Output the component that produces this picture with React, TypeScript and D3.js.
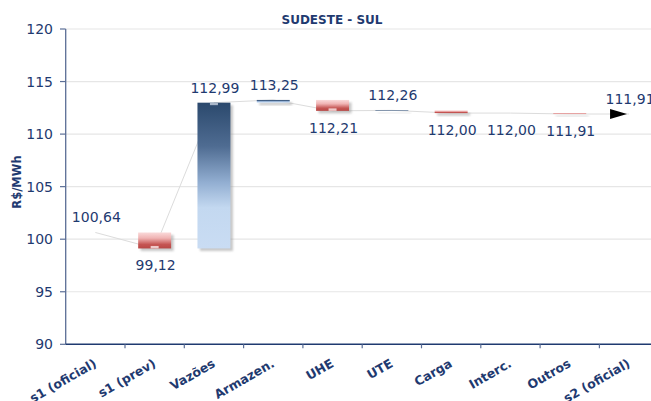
import React from "react";
import * as d3 from "d3";

const categories = ["s1 (oficial)", "s1 (prev)", "Vazões", "Armazen.", "UHE", "UTE", "Carga", "Interc.", "Outros", "s2 (oficial)"];
const cumulative = [100.64, 99.12, 112.99, 113.25, 112.21, 112.26, 112.0, 112.0, 111.91, 111.91];
const yTicks = [90, 95, 100, 105, 110, 115, 120];
const title = "SUDESTE - SUL";
const yTitle = "R$/MWh";

const W = 651;
const H = 401;
const NAVY = "#1f3a70";

const fmt = (v: number) => v.toFixed(2).replace(".", ",");

export default function App() {
  const x = d3.scaleBand<string>().domain(categories).range([65.7, 658.7]).padding(0);
  const y = d3.scaleLinear().domain([90, 120]).range([344.3, 29]);
  const bw = x.bandwidth();
  const barW = bw * 0.556;
  const cx = (c: string) => (x(c) as number) + bw / 2;
  const last = categories.length - 1;

  const line = d3
    .line<number>()
    .x((_, i) => cx(categories[i]))
    .y((d) => y(d));

  return (
    <svg width={W} height={H} style={{ position: "absolute", left: 0, top: 0, background: "#fff" }} fontFamily="Verdana, 'DejaVu Sans', sans-serif">
      <defs>
        <linearGradient id="gRed" x1="0" y1="0" x2="0" y2="1">
          <stop offset="0" stopColor="#fadada" />
          <stop offset="0.35" stopColor="#f0b4b4" />
          <stop offset="0.75" stopColor="#c55553" />
          <stop offset="1" stopColor="#b84846" />
        </linearGradient>
        <linearGradient id="gBlue" x1="0" y1="0" x2="0" y2="1">
          <stop offset="0" stopColor="#2b496d" />
          <stop offset="0.3" stopColor="#4f6c92" />
          <stop offset="0.55" stopColor="#93afd2" />
          <stop offset="0.72" stopColor="#c3d8f0" />
          <stop offset="1" stopColor="#c9dcf3" />
        </linearGradient>
        <filter id="blur" x="-20%" y="-20%" width="140%" height="140%">
          <feGaussianBlur stdDeviation="0.8" />
        </filter>
      </defs>

      {/* title */}
      <text x={332} y={24} textAnchor="middle" fontSize={12} fontWeight="bold" fill={NAVY}>
        {title}
      </text>

      {/* gridlines */}
      {yTicks.slice(1).map((t) => (
        <line key={t} x1={66} x2={W} y1={y(t)} y2={y(t)} stroke="#e6e6e6" strokeWidth={1.2} />
      ))}

      {/* y axis */}
      <line x1={65.7} x2={65.7} y1={y(120)} y2={y(90)} stroke="#5b6e96" strokeWidth={1.3} />
      {yTicks.map((t) => (
        <g key={t}>
          <line x1={60} x2={65.7} y1={y(t)} y2={y(t)} stroke="#5b6e96" strokeWidth={1.2} />
          <text x={53} y={y(t)} dy="0.36em" textAnchor="end" fontSize={14} fill={NAVY}>
            {t}
          </text>
        </g>
      ))}
      <text
        transform={`translate(21,182) rotate(-90)`}
        textAnchor="middle"
        fontSize={11.5}
        fontWeight="bold"
        fill={NAVY}
      >
        {yTitle}
      </text>

      {/* connector line */}
      <path d={line(cumulative) || ""} fill="none" stroke="#dcdcdc" strokeWidth={1} />

      {/* bars */}
      {cumulative.map((v, i) => {
        if (i === 0 || i === last) return null;
        const prev = cumulative[i - 1];
        if (v === prev) return null;
        const up = v > prev;
        const top = y(Math.max(v, prev));
        const bot = y(Math.min(v, prev));
        const h = Math.max(bot - top, 0.6);
        const bx = cx(categories[i]) - barW / 2;
        return (
          <g key={i}>
            <rect x={bx + 2.5} y={top + 2.5} width={barW} height={h} fill="#9a9a9a" opacity={0.55} filter="url(#blur)" />
            <rect x={bx} y={top} width={barW} height={h} fill={up ? "url(#gBlue)" : "url(#gRed)"} />
            {h > 3 && (
              <rect
                x={cx(categories[i]) - 4}
                y={up ? top : bot - 2.5}
                width={8}
                height={2.5}
                fill={up ? "#a9b7ca" : "#efc9c9"}
              />
            )}
          </g>
        );
      })}

      {/* arrow for final value */}
      {(() => {
        const c = cx(categories[last]);
        const yy = y(cumulative[last]);
        const tip = c - 2;
        return <path d={`M${tip - 17},${yy - 5} L${tip},${yy} L${tip - 17},${yy + 5} Z`} fill="#000" />;
      })()}

      {/* value labels */}
      {cumulative.map((v, i) => {
        const prev = i > 0 ? cumulative[i - 1] : v;
        const above = i === 0 || i === last || v > prev;
        const yy = above ? y(Math.max(v, prev)) - 10 : y(Math.min(v, prev)) + 22;
        return (
          <text key={i} x={cx(categories[i]) + 1} y={yy} textAnchor="middle" fontSize={14} fill={NAVY}>
            {fmt(v)}
          </text>
        );
      })}

      {/* x axis */}
      <line x1={65.7} x2={W} y1={y(90)} y2={y(90)} stroke={NAVY} strokeWidth={1.5} />
      {categories.map((c, i) => (
        <line key={"t" + i} x1={(x(c) as number) + bw} x2={(x(c) as number) + bw} y1={y(90)} y2={y(90) + 4} stroke="#5b6e96" strokeWidth={1.2} />
      ))}
      {categories.map((c, i) => (
        <text
          key={"l" + i}
          transform={`translate(${cx(c) + 2},366) rotate(-30)`}
          textAnchor="end"
          fontSize={12.5}
          fontWeight="bold"
          fill={NAVY}
        >
          {c}
        </text>
      ))}
    </svg>
  );
}
